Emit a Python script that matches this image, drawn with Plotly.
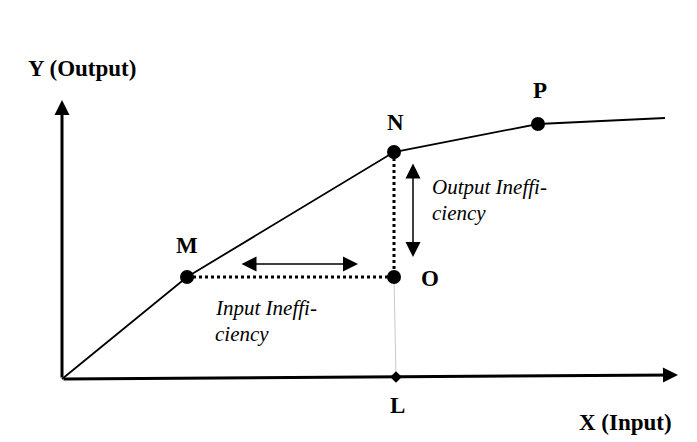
import plotly.graph_objects as go

# Schematic coordinates (origin at 0,0)
frontier_x = [0, 125, 332, 476, 603]
frontier_y = [0, 102, 227, 255, 261]
point_names = ["M", "N", "P"]
point_x = [125, 332, 476]
point_y = [102, 227, 255]
O_x, O_y = 332, 102
L_x, L_y = 334, 2
x_axis_end = (616, 4)
y_axis_end = (0, 279)

FONT = "Liberation Serif"

fig = go.Figure()

# thin grey line O -> L
fig.add_trace(go.Scatter(x=[O_x, L_x], y=[O_y, L_y], mode="lines",
                         line=dict(color="#c8c8c8", width=1), hoverinfo="skip"))
# dotted lines M -> O and N -> O
fig.add_trace(go.Scatter(x=[point_x[0], O_x], y=[point_y[0], O_y], mode="lines",
                         line=dict(color="black", width=3, dash="dot"), hoverinfo="skip"))
fig.add_trace(go.Scatter(x=[point_x[1], O_x], y=[point_y[1], O_y], mode="lines",
                         line=dict(color="black", width=3, dash="dot"), hoverinfo="skip"))
# frontier
fig.add_trace(go.Scatter(x=frontier_x, y=frontier_y, mode="lines",
                         line=dict(color="black", width=1.8), hoverinfo="skip"))
# points
fig.add_trace(go.Scatter(x=point_x + [O_x], y=point_y + [O_y], mode="markers",
                         marker=dict(color="black", size=14), hoverinfo="skip"))
fig.add_trace(go.Scatter(x=[L_x], y=[L_y], mode="markers",
                         marker=dict(color="black", size=9, symbol="diamond"), hoverinfo="skip"))

# axes arrows
fig.add_annotation(x=x_axis_end[0], y=x_axis_end[1], ax=0, ay=0, xref="x", yref="y",
                   axref="x", ayref="y", showarrow=True, arrowhead=2, arrowsize=1.0,
                   arrowwidth=3, arrowcolor="black", text="")
fig.add_annotation(x=y_axis_end[0], y=y_axis_end[1], ax=0, ay=0, xref="x", yref="y",
                   axref="x", ayref="y", showarrow=True, arrowhead=2, arrowsize=1.0,
                   arrowwidth=3, arrowcolor="black", text="")

# double arrows
fig.add_annotation(x=296, y=115, ax=178, ay=115, xref="x", yref="y", axref="x", ayref="y",
                   showarrow=True, arrowhead=2, startarrowhead=2, arrowside="end+start",
                   arrowsize=2, startarrowsize=2, arrowwidth=1.5, arrowcolor="black", text="")
fig.add_annotation(x=351, y=122, ax=351, ay=217, xref="x", yref="y", axref="x", ayref="y",
                   showarrow=True, arrowhead=2, startarrowhead=2, arrowside="end+start",
                   arrowsize=2, startarrowsize=2, arrowwidth=1.5, arrowcolor="black", text="")

def label(text, x, y, size=23, bold=True, italic=False, xanchor="center"):
    t = f"<b>{text}</b>" if bold else text
    if italic:
        t = f"<i>{t}</i>"
    fig.add_annotation(x=x, y=y, text=t, showarrow=False, xref="x", yref="y",
                       xanchor=xanchor, yanchor="middle",
                       font=dict(family=FONT, size=size, color="black"))

label("Y (Output)", 20, 311)
label("X (Input)", 563, -43)
label("M", 125, 134)
label("N", 333, 257)
label("P", 478, 289)
label("O", 368, 101)
label("L", 335, -26)
label("Output Ineffi-", 368, 192, size=21, bold=False, italic=True, xanchor="left")
label("ciency", 368, 166, size=21, bold=False, italic=True, xanchor="left")
label("Input Ineffi-", 151, 71, size=21, bold=False, italic=True, xanchor="left")
label("ciency", 151, 45, size=21, bold=False, italic=True, xanchor="left")

fig.update_layout(
    width=689, height=434, margin=dict(l=0, r=0, t=0, b=0),
    paper_bgcolor="white", plot_bgcolor="white", showlegend=False,
    xaxis=dict(range=[-54, 635], visible=False, fixedrange=True),
    yaxis=dict(range=[-63, 371], visible=False, fixedrange=True),
)

fig.write_html("out.html")
